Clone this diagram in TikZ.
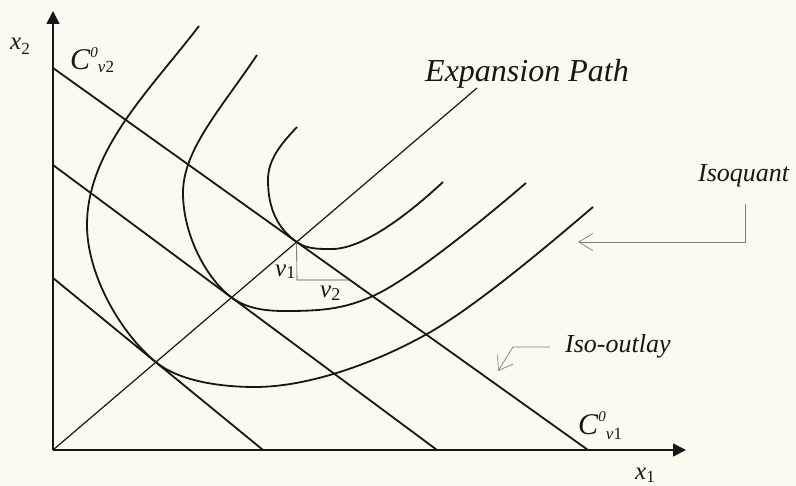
\documentclass[tikz,border=0pt]{standalone}
\usepackage{fontspec}
\setmainfont{Liberation Serif}
\usetikzlibrary{arrows.meta}
\definecolor{paper}{RGB}{252,250,240}
\definecolor{ink}{RGB}{22,22,22}
\definecolor{pointer}{RGB}{125,125,125}
\newcommand{\fs}[1]{\fontsize{#1}{#1}\selectfont}
\begin{document}
\begin{tikzpicture}[x=1pt,y=-1pt,
  axis/.style={ink,line width=1.8pt,-{Triangle[length=13pt,width=13pt]}},
  budget/.style={ink,line width=1.8pt},
  isoq/.style={ink,line width=1.8pt},
  exppath/.style={ink,line width=1.2pt},
  thin/.style={ink!80,line width=0.6pt},
  pointerline/.style={pointer,line width=0.7pt},
  lab/.style={inner sep=0pt,anchor=base west,text=ink}]
\fill[paper] (0,0) rectangle (796,486);
\useasboundingbox (0,0) rectangle (796,486);
% axes
\coordinate (O) at (53,450);
\coordinate (ytip) at (53,11);
\coordinate (xtip) at (686,450);
\draw[axis] (O) -- (ytip);
\draw[axis] (O) -- (xtip);
% iso-cost lines
\coordinate (L1a) at (53,278); \coordinate (L1b) at (263,450);
\coordinate (L2a) at (53,165); \coordinate (L2b) at (437,450);
\coordinate (L3a) at (53,68);  \coordinate (L3b) at (588,450);
\draw[budget] (L1a) -- (L1b);
\draw[budget] (L2a) -- (L2b);
\draw[budget] (L3a) -- (L3b);
% expansion path
\coordinate (E) at (477,88);
\draw[exppath] (O) -- (E);
% tangency points
\coordinate (T1) at (155.7,362);
\coordinate (T2) at (231.6,297.5);
\coordinate (T3) at (296.6,242);
% isoquant 1
\draw[isoq] (199,26) .. controls (150,90) and (87,150) .. (87,225)
  .. controls (87,275) and (120.7,333.3) .. (T1)
  .. controls (180.7,382.5) and (225,387) .. (255,387)
  .. controls (310,387) and (377,362) .. (427,334)
  .. controls (477,306) and (553,241) .. (593,207);
% isoquant 2
\draw[isoq] (257,55) .. controls (220,110) and (183,150) .. (183,193)
  .. controls (183,235) and (206.6,279) .. (T2)
  .. controls (246.6,308.6) and (265,311) .. (285,311)
  .. controls (320,311) and (343,309.5) .. (373,296)
  .. controls (413,278) and (491,213) .. (526,183);
% isoquant 3
\draw[isoq] (297,127) .. controls (280,145) and (268,160) .. (268,180)
  .. controls (268,210) and (278.6,229.1) .. (T3)
  .. controls (306.6,249.1) and (318,249) .. (332,249)
  .. controls (365,249) and (413,210) .. (443,182);
% v1 v2 triangle
\coordinate (Tc) at (297,280);
\coordinate (Tr) at (350,280);
\draw[thin] (T3) -- (Tc) -- (Tr);
% labels
\node[lab] (x2) at (10,50) {\fs{25}\textit{x}\raisebox{-5pt}{\fs{17}2}};
\node[lab] (x1) at (635,480) {\fs{25}\textit{x}\raisebox{-2pt}{\fs{17}1}};
\node[lab] (cv2) at (70,70) {\fs{30}\textit{C}\raisebox{12pt}{\fs{15}\textit{0}}\raisebox{-3pt}{\fs{17}\textit{v}2}};
\node[lab] (cv1) at (578,435) {\fs{30}\textit{C}\raisebox{13pt}{\fs{15}\textit{0}}\raisebox{-5pt}{\fs{17}\textit{v}1}};
\node[lab] (v1) at (275,277) {\fs{25}\textit{v}\raisebox{-2pt}{\fs{18}1}};
\node[lab] (v2) at (320,298) {\fs{25}\textit{v}\raisebox{-3pt}{\fs{18}2}};
\node[lab] (ep) at (425,82) {\fs{32}\textit{Expansion Path}};
\node[lab] (isq) at (698,182) {\fs{26}\textit{Isoquant}};
\node[lab] (iso) at (565,353) {\fs{26}\textit{Iso-outlay}};
% pointers
\coordinate (pqs) at (745,204);
\coordinate (pqt) at (578,242);
\draw[pointerline,-{Straight Barb[length=14pt,width=17pt]}] (pqs) |- (pqt);
\coordinate (pos) at (550,347);
\coordinate (pom) at (513,347);
\coordinate (pot) at (498,371);
\draw[pointerline,-{Straight Barb[length=13pt,width=18pt]}] (pos) -- (pom) -- (pot);
\end{tikzpicture}
\end{document}
